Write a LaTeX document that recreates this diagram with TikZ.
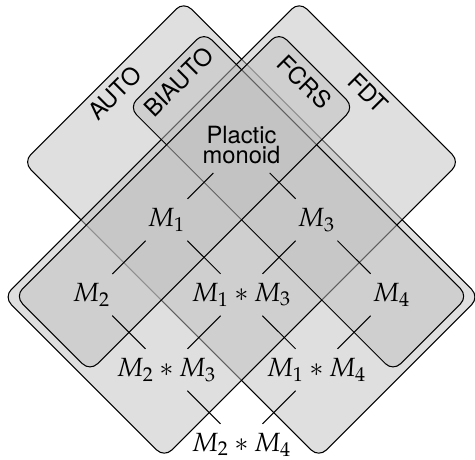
\documentclass[tikz,border=0pt]{standalone}
\usepackage{amsmath}
\usepackage{amssymb}
\usepackage{mathpazo}
\usepackage[no-math]{fontspec}
\setsansfont{TeX Gyre Heros}
\usepackage{tikz}
\usepackage{color}

\begin{document}
\begin{tikzpicture}[class/.style={draw,rounded corners,fill=gray!50,fill opacity=0.5},
  classname/.style={font=\sffamily\fontsize{9}{9}\selectfont}]
  \useasboundingbox (-3.22,1.93) rectangle (3.113,-4.203);
  \begin{scope}[rotate=-45,scale=1.4142]
    \draw [class] (-1.34,0.57) rectangle (2.6,-1.57);
    \draw [class] (-0.57,1.34) rectangle (1.57,-2.6);
    \draw [class] (-1,0.5) rectangle (2.52,-0.5);
    \draw [class] (-0.5,1) rectangle (0.5,-2.52);
    \node [classname,rotate=45] (auto) at (-1.19,-0.5) {AUTO};
    \node [classname,rotate=-45] (fdt) at (0.5,1.19) {FDT};
    \node [classname,rotate=45] (biauto) at (-0.84,0) {BIAUTO};
    \node [classname,rotate=-45] (fcrs) at (0,0.84) {FCRS};
  \end{scope}
  \node [align=center,font=\sffamily\fontsize{9}{7.6}\selectfont] (pl) at (0,0) {Plactic\\monoid};
  \node (m1) at (-1,-1) {$M_1$};
  \node (m3) at (1,-1) {$M_3$};
  \node (m2) at (-2,-2) {$M_2$};
  \node (m13) at (0,-2) {$M_1 * M_3$};
  \node (m4) at (2,-2) {$M_4$};
  \node (m23) at (-1,-3) {$M_2 * M_3$};
  \node (m14) at (1,-3) {$M_1 * M_4$};
  \node (m24) at (0,-4) {$M_2 * M_4$};
  \draw (pl) -- (m1);
  \draw (pl) -- (m3);
  \draw (m1) -- (m2);
  \draw (m1) -- (m13);
  \draw (m3) -- (m13);
  \draw (m3) -- (m4);
  \draw (m2) -- (m23);
  \draw (m13) -- (m23);
  \draw (m13) -- (m14);
  \draw (m4) -- (m14);
  \draw (m23) -- (m24);
  \draw (m14) -- (m24);
\end{tikzpicture}
\end{document}
